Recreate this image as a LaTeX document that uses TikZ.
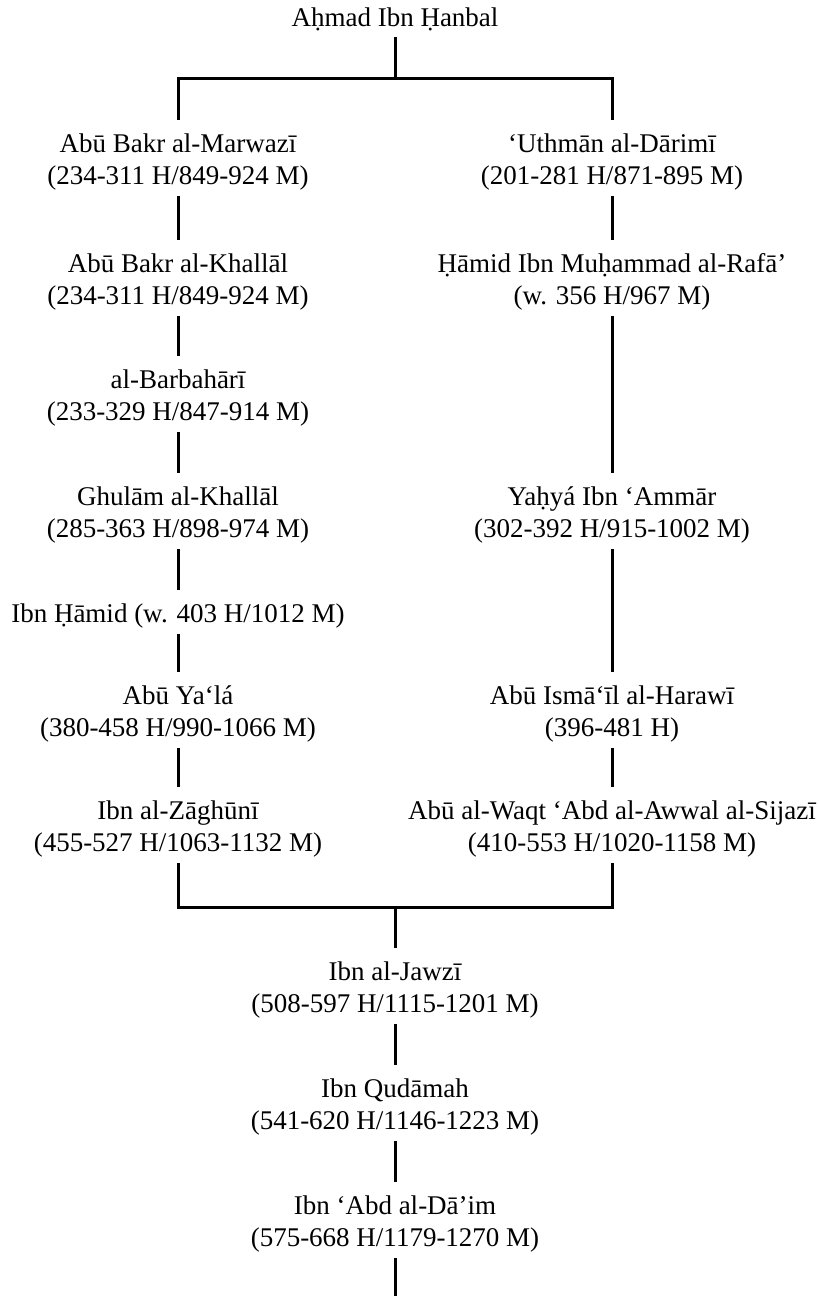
\documentclass[tikz,border=0pt]{standalone}
\usepackage{fontspec}
\setmainfont{Liberation Serif}
\newcommand\tstrut{\rule{0pt}{32pt}}
\newcommand\bstrut{\rule[-12pt]{0pt}{12pt}}
\begin{document}
\begin{tikzpicture}[x=1pt,y=-1pt,
  person/.style={inner sep=0pt, align=center, anchor=north, font=\fontsize{27}{32}\selectfont},
  link/.style={line width=3pt}]
\useasboundingbox (0,0) rectangle (819,1296);
% top
\node[person, anchor=south] (ahmad) at (395,37) {Aḥmad Ibn Ḥanbal\rule[-10pt]{0pt}{10pt}};
\coordinate (ftop) at (395,78);
% left column
\node[person] (marwazi) at (178,120) {\tstrut Abū Bakr al-Marwazī\\(234-311 H/849-924 M)\bstrut};
\node[person] (khallal) at (178,240) {\tstrut Abū Bakr al-Khallāl\\(234-311 H/849-924 M)\bstrut};
\node[person] (barbahari) at (178,356) {\tstrut al-Barbahārī\\(233-329 H/847-914 M)\bstrut};
\node[person] (ghulam) at (178,473) {\tstrut Ghulām al-Khallāl\\(285-363 H/898-974 M)\bstrut};
\node[person] (hamid) at (178,590) {\tstrut Ibn Ḥāmid (w. 403 H/1012 M)\bstrut};
\node[person] (yala) at (178,672) {\tstrut Abū Ya‘lá\\(380-458 H/990-1066 M)\bstrut};
\node[person] (zaghuni) at (178,787) {\tstrut Ibn al-Zāghūnī\\(455-527 H/1063-1132 M)\bstrut};
% right column
\node[person] (darimi) at (612,120) {\tstrut ‘Uthmān al-Dārimī\\(201-281 H/871-895 M)\bstrut};
\node[person] (rafa) at (612,240) {\tstrut Ḥāmid Ibn Muḥammad al-Rafā’\\(w. 356 H/967 M)\bstrut};
\node[person] (yahya) at (612,473) {\tstrut Yaḥyá Ibn ‘Ammār\\(302-392 H/915-1002 M)\bstrut};
\node[person] (harawi) at (612,672) {\tstrut Abū Ismā‘īl al-Harawī\\(396-481 H)\bstrut};
\node[person] (sijazi) at (612,787) {\tstrut Abū al-Waqt ‘Abd al-Awwal al-Sijazī\\(410-553 H/1020-1158 M)\bstrut};
% bottom chain
\coordinate (fbot) at (395,907);
\node[person] (jawzi) at (395,948) {\tstrut Ibn al-Jawzī\\(508-597 H/1115-1201 M)\bstrut};
\node[person] (qudamah) at (395,1065) {\tstrut Ibn Qudāmah\\(541-620 H/1146-1223 M)\bstrut};
\node[person] (abddaim) at (395,1182) {\tstrut Ibn ‘Abd al-Dā’im\\(575-668 H/1179-1270 M)\bstrut};
\coordinate (tail) at (395,1296);
% connectors
\draw[link] (ahmad.south) -- (ftop);
\draw[link] (marwazi.north) |- (ftop) -| (darimi.north);
\draw[link] (marwazi.south) -- (khallal.north);
\draw[link] (khallal.south) -- (barbahari.north);
\draw[link] (barbahari.south) -- (ghulam.north);
\draw[link] (ghulam.south) -- (hamid.north);
\draw[link] (hamid.south) -- (yala.north);
\draw[link] (yala.south) -- (zaghuni.north);
\draw[link] (darimi.south) -- (rafa.north);
\draw[link] (rafa.south) -- (yahya.north);
\draw[link] (yahya.south) -- (harawi.north);
\draw[link] (harawi.south) -- (sijazi.north);
\draw[link] (zaghuni.south) |- (fbot) -| (sijazi.south);
\draw[link] (fbot) -- (jawzi.north);
\draw[link] (jawzi.south) -- (qudamah.north);
\draw[link] (qudamah.south) -- (abddaim.north);
\draw[link] (abddaim.south) -- (tail);
\end{tikzpicture}
\end{document}
